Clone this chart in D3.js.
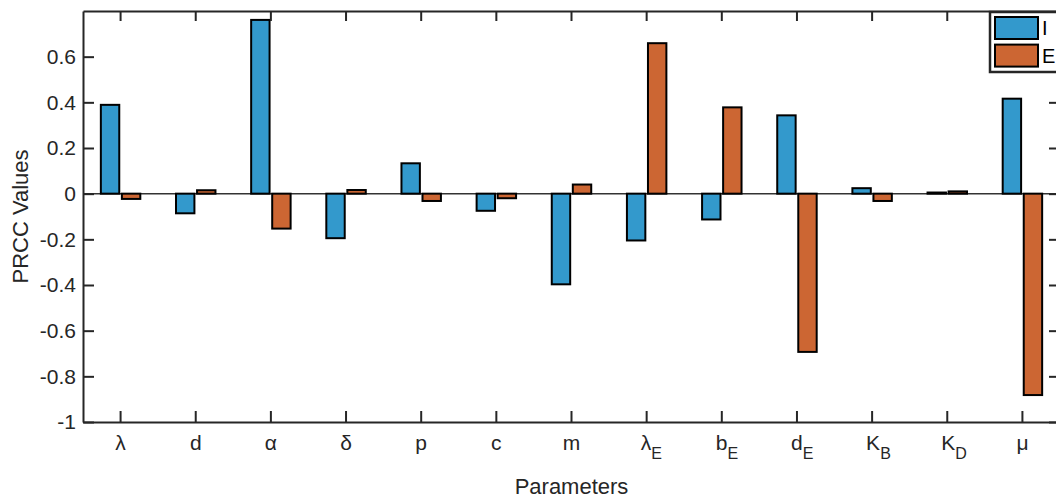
<!DOCTYPE html>
<html>
<head>
<meta charset="utf-8">
<script src="https://cdn.jsdelivr.net/npm/d3@7"></script>
<style>
  body { margin: 0; background: #fff; }
  svg { display: block; font-family: "Liberation Sans", Arial, Helvetica, sans-serif; }
</style>
</head>
<body>
<div id="chart"></div>
<script>
(function () {
  'use strict';

  // parameter names (base letter + subscript)
  var params = ['lambda', 'd', 'alpha', 'delta', 'p', 'c', 'm', 'lambdaE', 'bE', 'dE', 'KB', 'KD', 'mu'];
  var paramBase = ['λ', 'd', 'α', 'δ', 'p', 'c', 'm', 'λ', 'b', 'd', 'K', 'K', 'μ'];
  var paramSub = ['', '', '', '', '', '', '', 'E', 'E', 'E', 'B', 'D', ''];

  // PRCC values
  var prccI = [0.389, -0.086, 0.761, -0.195, 0.133, -0.075, -0.397, -0.205, -0.113, 0.343, 0.024, 0.005, 0.416];
  var prccE = [-0.023, 0.015, -0.153, 0.016, -0.032, -0.02, 0.04, 0.659, 0.378, -0.693, -0.032, 0.01, -0.882];

  var seriesNames = ['I', 'E'];
  var seriesColors = ['#3399cc', '#cc6633'];

  var yTicks = [-1, -0.8, -0.6, -0.4, -0.2, 0, 0.2, 0.4, 0.6];
  var yTickLabels = ['-1', '-0.8', '-0.6', '-0.4', '-0.2', '0', '0.2', '0.4', '0.6'];

  var width = 1056,
    height = 498,
    left = 83,
    right = 1060,
    top = 11,
    bottom = 422,
    ink = '#262626';

  var svg = d3.select('#chart').append('svg')
    .attr('width', width)
    .attr('height', height);

  var x = d3.scaleBand()
    .domain(params)
    .range([left, right])
    .padding(0);

  var y = d3.scaleLinear()
    .domain([-1, 0.8])
    .range([bottom, top]);

  var step = x.step();
  var barW = step * 0.245;
  var offsets = [-step * 0.14, step * 0.14];

  // clip so nothing spills past the axes box
  svg.append('defs').append('clipPath')
    .attr('id', 'plotClip')
    .append('rect')
    .attr('x', left).attr('y', top)
    .attr('width', right - left).attr('height', bottom - top);

  var plot = svg.append('g').attr('clip-path', 'url(#plotClip)');

  // zero baseline
  plot.append('line')
    .attr('x1', left).attr('x2', right)
    .attr('y1', y(0)).attr('y2', y(0))
    .attr('stroke', '#333')
    .attr('stroke-width', 1.5);

  [prccI, prccE].forEach(function (vals, s) {
    plot.append('g')
      .selectAll('rect')
      .data(vals)
      .enter()
      .append('rect')
      .attr('x', function (d, i) { return x(params[i]) + step / 2 + offsets[s] - barW / 2; })
      .attr('y', function (d) { return y(Math.max(0, d)); })
      .attr('width', barW)
      .attr('height', function (d) { return Math.abs(y(d) - y(0)); })
      .attr('fill', seriesColors[s])
      .attr('stroke', '#000')
      .attr('stroke-width', 2);
  });

  // axes
  var xAxis = d3.axisBottom(x)
    .tickSizeInner(-11)
    .tickSizeOuter(0)
    .tickPadding(13)
    .tickFormat(function () { return ''; });

  var gx = svg.append('g')
    .attr('transform', 'translate(0,' + bottom + ')')
    .call(xAxis);

  gx.selectAll('.tick text')
    .each(function (d, i) {
      var t = d3.select(this);
      t.text(null);
      t.append('tspan').text(paramBase[i]);
      if (paramSub[i]) {
        t.append('tspan')
          .attr('dy', '0.55em')
          .attr('font-size', 16)
          .text(paramSub[i]);
      }
    })
    .attr('text-anchor', function (d, i) { return paramSub[i] ? 'start' : 'middle'; })
    .attr('dx', function (d, i) { return paramSub[i] ? -6 : 0; });

  var yAxis = d3.axisLeft(y)
    .tickValues(yTicks)
    .tickSizeInner(-11)
    .tickSizeOuter(0)
    .tickPadding(7)
    .tickFormat(function (d, i) { return yTickLabels[i]; });

  var gy = svg.append('g')
    .attr('transform', 'translate(' + left + ',0)')
    .call(yAxis);

  var gTop = svg.append('g')
    .attr('transform', 'translate(0,' + top + ')')
    .call(d3.axisTop(x).tickSizeInner(-10).tickSizeOuter(0).tickFormat(function () { return ''; }));

  var gRight = svg.append('g')
    .attr('transform', 'translate(' + right + ',0)')
    .call(d3.axisRight(y).tickValues(yTicks).tickSizeInner(-11).tickSizeOuter(0).tickFormat(function () { return ''; }));

  [gx, gy, gTop, gRight].forEach(function (g) {
    g.select('.domain').attr('stroke', ink).attr('stroke-width', 2);
    g.selectAll('.tick line').attr('stroke', ink).attr('stroke-width', 2);
    g.selectAll('.tick text').attr('fill', ink).attr('font-size', 21);
    g.attr('font-family', null);
  });

  // axis titles
  svg.append('text')
    .attr('x', (left + right) / 2)
    .attr('y', 494)
    .attr('text-anchor', 'middle')
    .attr('font-size', 22)
    .attr('fill', ink)
    .text('Parameters');

  svg.append('text')
    .attr('transform', 'translate(28,' + (top + bottom) / 2 + ') rotate(-90)')
    .attr('text-anchor', 'middle')
    .attr('font-size', 22)
    .attr('fill', ink)
    .text('PRCC Values');

  // legend
  var legend = svg.append('g').attr('transform', 'translate(990,12)');

  legend.append('rect')
    .attr('x', 0).attr('y', 0)
    .attr('width', 80).attr('height', 60)
    .attr('fill', '#fff')
    .attr('stroke', ink)
    .attr('stroke-width', 2.5);

  seriesNames.forEach(function (name, s) {
    legend.append('rect')
      .attr('x', 5).attr('y', 5 + s * 27.6)
      .attr('width', 43).attr('height', 22)
      .attr('fill', seriesColors[s])
      .attr('stroke', '#000')
      .attr('stroke-width', 2);
    legend.append('text')
      .attr('x', 52).attr('y', 23 + s * 27.6)
      .attr('font-size', 20)
      .attr('fill', '#000')
      .text(name);
  });

})();
</script>
</body>
</html>
